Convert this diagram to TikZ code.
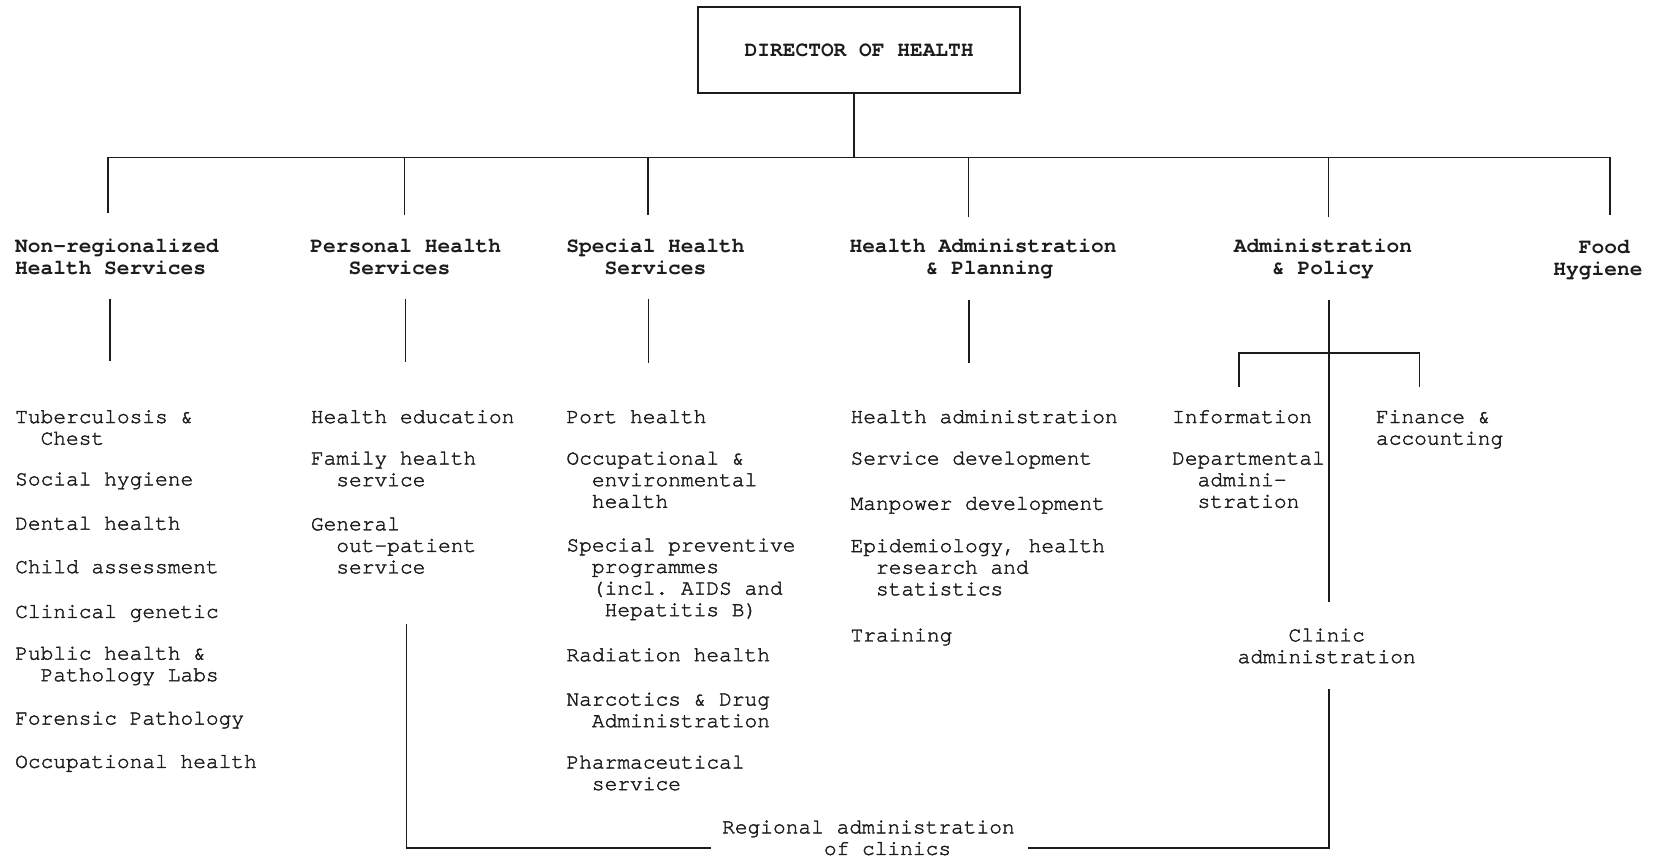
\documentclass[tikz,border=0pt]{standalone}
\usepackage{fontspec}
\newfontfamily\twfont{texgyrecursor-regular.otf}[BoldFont=texgyrecursor-bold.otf]
\newfontfamily\itfont{texgyrecursor-regular.otf}[FakeBold=1.8]
\newcommand\ind[1]{\hspace*{#1em}}
\newcommand\tp{\rule{0pt}{7.56pt}}
\definecolor{ink}{RGB}{28,28,28}
\begin{document}
\begin{tikzpicture}[x=0.52806pt, y=-0.52806pt,
  every node/.style={inner sep=0pt, text=ink},
  ln/.style={line width=0.85pt, draw=ink},
  item/.style={anchor=north west, align=left, yshift=4.56pt,
    font=\itfont\frenchspacing\fontsize{10.6}{10.8}\selectfont},
  head/.style={item, font=\twfont\bfseries\frenchspacing\fontsize{10.6}{10.8}\selectfont},
  topbox/.style={draw=ink, line width=1.1pt, minimum width=161.1pt, minimum height=42.8pt,
    font=\twfont\bfseries\fontsize{10.6}{10.8}\selectfont}]
\useasboundingbox (0,0) rectangle (1568,814);
\fill[white] (0,0) rectangle (1568,814);

% director
\node[topbox] (dir) at (813.5,47.5) {DIRECTOR OF HEALTH};

% headers
\node[head] (h1) at (14,233)     {\tp Non-regionalized\\Health Services};
\node[head] (h2) at (293.5,233)  {\tp Personal Health\\\ind{1.8}Services};
\node[head] (h3) at (536,233)    {\tp Special Health\\\ind{1.8}Services};
\node[head] (h4) at (804,233)    {\tp Health Administration\\\ind{3.6}\& Planning};
\node[head] (h5) at (1168,233)   {\tp Administration\\\ind{1.8}\& Policy};
\node[head] (h6) at (1470.5,234) {\tp\ind{1.2}Food\\Hygiene};

% column 1
\node[item] (a1) at (14,394.5) {\tp Tuberculosis \&\\\ind{1.2}Chest};
\node[item] (a2) at (14,453.5) {\tp Social hygiene};
\node[item] (a3) at (14,495.5) {\tp Dental health};
\node[item] (a4) at (14,536.6) {\tp Child assessment};
\node[item] (a5) at (14,579)   {\tp Clinical genetic};
\node[item] (a6) at (14,618.5) {\tp Public health \&\\\ind{1.2}Pathology Labs};
\node[item] (a7) at (14,680)   {\tp Forensic Pathology};
\node[item] (a8) at (14,721)   {\tp Occupational health};

% column 2
\node[item] (b1) at (294,394.5) {\tp Health education};
\node[item] (b2) at (294,433.8) {\tp Family health\\\ind{1.2}service};
\node[item] (b3) at (294,496)   {\tp General\\\ind{1.2}out-patient\\\ind{1.2}service};

% column 3
\node[item] (c1) at (536,394.5) {\tp Port health};
\node[item] (c2) at (536,433.8) {\tp Occupational \&\\\ind{1.2}environmental\\\ind{1.2}health};
\node[item] (c3) at (536,516)   {\tp Special preventive\\\ind{1.2}programmes\\\ind{1.2}(incl. AIDS and\\\ind{1.8}Hepatitis B)};
\node[item] (c4) at (536,620)   {\tp Radiation health};
\node[item] (c5) at (536,662)   {\tp Narcotics \& Drug\\\ind{1.2}Administration};
\node[item] (c6) at (536,721.6) {\tp Pharmaceutical\\\ind{1.2}service};

% column 4
\node[item] (d1) at (805,394.5) {\tp Health administration};
\node[item] (d2) at (805,433.8) {\tp Service development};
\node[item] (d3) at (805,476.6) {\tp Manpower development};
\node[item] (d4) at (805,516.7) {\tp Epidemiology, health\\\ind{1.2}research and\\\ind{1.2}statistics};
\node[item] (d5) at (805,601.3) {\tp Training};

% column 5
\node[item] (e1) at (1109.5,394.5) {\tp Information};
\node[item] (e2) at (1109.5,433.8) {\tp Departmental\\\ind{1.2}admini-\\\ind{1.2}stration};
\node[item] (e3) at (1302.5,394.5) {\tp Finance \&\\accounting};
\node[item] (e4) at (1171.5,601.3) {\tp\ind{2.4}Clinic\\administration};

% regional
\node[item] (rg) at (683.4,783) {\tp Regional administration\\\ind{4.8}of clinics};

% connector coordinates
\coordinate (bus) at (0,149);
\coordinate (t1) at (102,202);
\coordinate (t2) at (383,204);
\coordinate (t3) at (613.5,204);
\coordinate (t4) at (917,205);
\coordinate (t5) at (1258,205);
\coordinate (t6) at (1524.5,204);
\coordinate (s1a) at (104,283);   \coordinate (s1b) at (104,342);
\coordinate (s2a) at (384,283);   \coordinate (s2b) at (384,343);
\coordinate (s3a) at (614,283);   \coordinate (s3b) at (614,344);
\coordinate (s4a) at (917.5,284); \coordinate (s4b) at (917.5,344);
\coordinate (s5a) at (1258.5,284); \coordinate (s5b) at (1258.5,570);
\coordinate (brk) at (0,334);
\coordinate (k1) at (1173,366);
\coordinate (k2) at (1344,366);
\coordinate (lb) at (385,591);
\coordinate (rb) at (1258.5,652);
\coordinate (bot) at (0,803);
\coordinate (le) at (673,803);
\coordinate (re) at (973.5,803);

% connectors
\draw[ln] ([xshift=-2.64pt]dir.south) -- ([xshift=-2.64pt]dir.south |- bus);
\draw[ln] (t1) -- (t1 |- bus) -- (t6 |- bus) -- (t6);
\draw[ln] (t2 |- bus) -- (t2);
\draw[ln] (t3 |- bus) -- (t3);
\draw[ln] (t4 |- bus) -- (t4);
\draw[ln] (t5 |- bus) -- (t5);
\draw[ln] (s1a) -- (s1b);
\draw[ln] (s2a) -- (s2b);
\draw[ln] (s3a) -- (s3b);
\draw[ln] (s4a) -- (s4b);
\draw[ln] (s5a) -- (s5b);
\draw[ln] (k1) -- (k1 |- brk) -- (k2 |- brk) -- (k2);
\draw[ln] (lb) -- (lb |- bot) -- (le);
\draw[ln] (rb) -- (rb |- bot) -- (re);
\end{tikzpicture}
\end{document}
